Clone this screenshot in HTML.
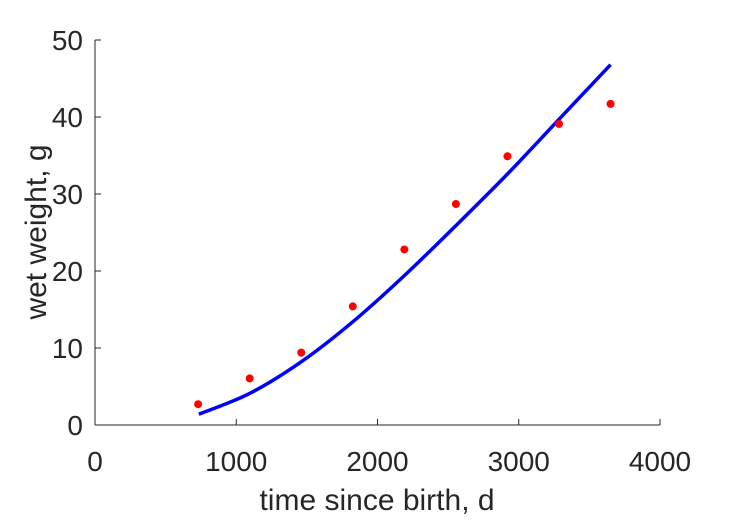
<!DOCTYPE html>
<html><head><meta charset="utf-8"><style>
body{margin:0;background:#fff;}
text{font-family:"Liberation Sans",sans-serif;fill:#262626;}
</style></head><body>
<svg id="chart" width="729" height="521" xmlns="http://www.w3.org/2000/svg">
<g id="axes"></g>
<g id="curve"></g>
<g id="pts"></g>
<text x="377" y="510" font-size="30" text-anchor="middle">time since birth, d</text>
<text transform="translate(46,232) rotate(-90)" font-size="30" text-anchor="middle">wet weight, g</text>
</svg>
<script>
const obsDays=[730,1095,1460,1825,2190,2555,2920,3285,3650];
const obsWeight=[2.7,6.05,9.4,15.4,22.8,28.7,34.9,39.1,41.7];
const fitDays=[735,1095,1460,1825,2190,2555,2920,3285,3650];
const fitWeight=[1.4,4.1,8.2,13.4,19.4,25.9,32.6,39.7,46.8];
const xTicks=[0,1000,2000,3000,4000];
const yTicks=[0,10,20,30,40,50];
const NS="http://www.w3.org/2000/svg";
const X0=95,X1=660,Y0=425,Y1=40;
const sx=v=>X0+(v-0)/(4000-0)*(X1-X0);
const sy=v=>Y0-(v-0)/(50-0)*(Y0-Y1);
function mk(t,a,p){const e=document.createElementNS(NS,t);for(const k in a)e.setAttribute(k,a[k]);p.appendChild(e);return e;}
const ax=document.getElementById('axes');
let l=mk('line',{x1:X0,y1:Y0,x2:X1,y2:Y0,stroke:'#262626','stroke-width':1},ax);


l=mk('line',{x1:X0,y1:Y0,x2:X0,y2:Y1,stroke:'#262626','stroke-width':1},ax);


xTicks.forEach(v=>{
 const t=mk('line',{x1:sx(v),y1:Y0,x2:sx(v),y2:Y0-6,stroke:'#262626'},ax);
 
 
 const s=mk('text',{x:sx(v),y:Y0+46,'font-size':28,'text-anchor':'middle'},ax);
 s.textContent=v;
 
 
});
yTicks.forEach(v=>{
 const t=mk('line',{x1:X0,y1:sy(v),x2:X0+6,y2:sy(v),stroke:'#262626'},ax);
 
 
 const s=mk('text',{x:X0-12,y:sy(v)+10,'font-size':28,'text-anchor':'end'},ax);
 s.textContent=v;
 
 
});
const pts=fitDays.map((d,i)=>[sx(d),sy(fitWeight[i])]);
let dstr='M'+pts[0][0]+','+pts[0][1];
for(let i=0;i<pts.length-1;i++){
 const p0=pts[Math.max(i-1,0)],p1=pts[i],p2=pts[i+1],p3=pts[Math.min(i+2,pts.length-1)];
 dstr+=' C'+(p1[0]+(p2[0]-p0[0])/6)+','+(p1[1]+(p2[1]-p0[1])/6)+' '+(p2[0]-(p3[0]-p1[0])/6)+','+(p2[1]-(p3[1]-p1[1])/6)+' '+p2[0]+','+p2[1];
}
const c=mk('path',{d:dstr,fill:'none',stroke:'#0000ff','stroke-width':3.5},document.getElementById('curve'));


const pg=document.getElementById('pts');
obsDays.forEach((d,i)=>{
 const m=mk('circle',{cx:sx(d),cy:sy(obsWeight[i]),r:4,fill:'#ff0000'},pg);
 
 
});
</script>
</body></html>
